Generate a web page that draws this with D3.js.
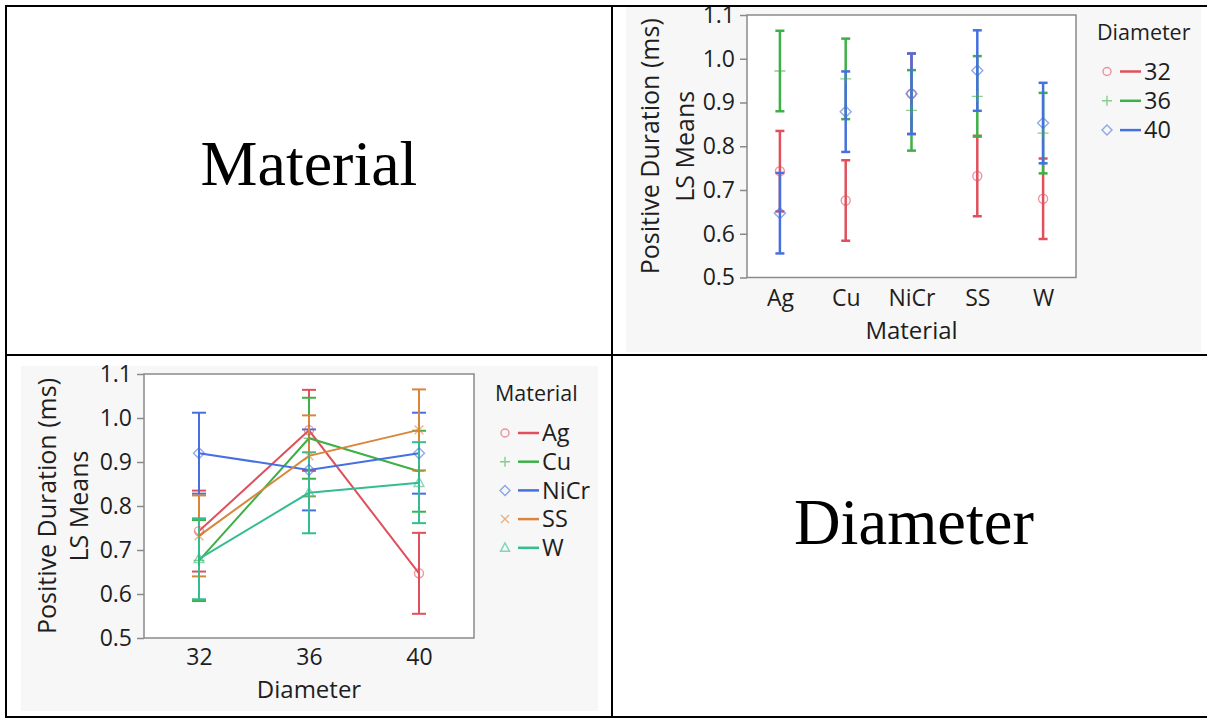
<!DOCTYPE html>
<html>
<head>
<meta charset="utf-8">
<script src="https://cdn.jsdelivr.net/npm/d3@7"></script>
<style>
  body { margin: 0; background: #fff; }
  text { font-family: "Open Sans", "Noto Sans", sans-serif; }
</style>
</head>
<body>
<div id="chart"></div>
<script>
var materials = ['Ag', 'Cu', 'NiCr', 'SS', 'W']
var diameters = ['32', '36', '40']

// LS means by diameter, in material order
var mean32 = [0.743, 0.676, 0.920, 0.732, 0.680]
var mean36 = [0.972, 0.954, 0.882, 0.914, 0.830]
var mean40 = [0.647, 0.879, 0.920, 0.973, 0.853]
var ciHalf = 0.092

var yTicks = [0.5, 0.6, 0.7, 0.8, 0.9, 1.0, 1.1]

var diaColors = ['#e0505c', '#3db046', '#4670e0']
var matColors = ['#e0505c', '#3db046', '#4670e0', '#d9853a', '#34bd91']
var diaShapes = ['circle', 'plus', 'diamond']
var matShapes = ['circle', 'plus', 'diamond', 'cross', 'triangle']

var means = [mean32, mean36, mean40]

var W = 1207, H = 719

var svg = d3.select('#chart').append('svg')
    .attr('width', W)
    .attr('height', H)

svg.append('rect').attr('width', W).attr('height', H).attr('fill', '#fff')

function shape(name, s) {
  if (name == 'circle') return 'M' + (-s) + ',0a' + s + ',' + s + ' 0 1,0 ' + (2 * s) + ',0a' + s + ',' + s + ' 0 1,0 ' + (-2 * s) + ',0'
  if (name == 'plus') return 'M' + (-s) + ',0H' + s + 'M0,' + (-s) + 'V' + s
  if (name == 'diamond') return 'M0,' + (-s) + 'L' + s + ',0L0,' + s + 'L' + (-s) + ',0Z'
  if (name == 'cross') return 'M' + (-s * 0.8) + ',' + (-s * 0.8) + 'L' + (s * 0.8) + ',' + (s * 0.8) + 'M' + (-s * 0.8) + ',' + (s * 0.8) + 'L' + (s * 0.8) + ',' + (-s * 0.8)
  return 'M0,' + (-s) + 'L' + (s * 0.9) + ',' + (s * 0.7) + 'L' + (-s * 0.9) + ',' + (s * 0.7) + 'Z'
}

// one interaction panel
function panel(opt) {
  var g = svg.append('g')

  g.append('rect')
    .attr('x', opt.bx).attr('y', opt.by)
    .attr('width', opt.bw).attr('height', opt.bh)
    .attr('fill', '#f7f7f7')

  var x = d3.scalePoint().domain(opt.cats).range([opt.left, opt.right]).padding(0.5)
  var y = d3.scaleLinear().domain([0.5, 1.1]).range([opt.bottom, opt.top])

  g.append('rect')
    .attr('x', opt.left).attr('y', opt.top)
    .attr('width', opt.right - opt.left).attr('height', opt.bottom - opt.top)
    .attr('fill', '#fff')

  var plot = g.append('g')

  opt.series.forEach(function(s, i) {
    var pts = s.values.map(function(v, j) { return {c: opt.cats[j], v: v} })
    var eb = plot.append('g').attr('stroke', s.color).attr('stroke-width', opt.barWidth).attr('fill', 'none')
    pts.forEach(function(p) {
      var cx = x(p.c)
      eb.append('line')
        .attr('x1', cx).attr('x2', cx)
        .attr('y1', y(p.v - ciHalf)).attr('y2', y(p.v + ciHalf))
      eb.append('line')
        .attr('x1', cx - opt.cap).attr('x2', cx + opt.cap)
        .attr('y1', y(p.v + ciHalf)).attr('y2', y(p.v + ciHalf))
      eb.append('line')
        .attr('x1', cx - opt.cap).attr('x2', cx + opt.cap)
        .attr('y1', y(p.v - ciHalf)).attr('y2', y(p.v - ciHalf))
    })
    if (opt.lines) {
      plot.append('path')
        .datum(pts)
        .attr('fill', 'none')
        .attr('stroke', s.color)
        .attr('stroke-width', 2)
        .attr('d', d3.line().x(function(d) { return x(d.c) }).y(function(d) { return y(d.v) }))
    }
  })

  opt.series.forEach(function(s) {
    plot.selectAll(null)
      .data(s.values)
      .enter().append('path')
        .attr('transform', function(v, j) { return 'translate(' + x(opt.cats[j]) + ',' + y(v) + ')' })
        .attr('d', shape(s.shape, s.shape == 'circle' ? 4.5 : 5.5))
        .attr('fill', 'none')
        .attr('stroke', s.color)
        .attr('stroke-opacity', 0.6)
        .attr('stroke-width', 1.4)
  })

  g.append('rect')
    .attr('x', opt.left).attr('y', opt.top)
    .attr('width', opt.right - opt.left).attr('height', opt.bottom - opt.top)
    .attr('fill', 'none')
    .attr('stroke', '#8a8a8a')
    .attr('stroke-width', 1.5)

  var ya = g.append('g')
    .attr('transform', 'translate(' + opt.left + ',0)')
    .call(d3.axisLeft(y).tickValues(yTicks).tickFormat(d3.format('.1f')).tickSize(7).tickPadding(5))
  ya.select('.domain').remove()
  ya.selectAll('.tick line').attr('stroke', '#8a8a8a').attr('stroke-width', 1.5)
  ya.selectAll('.tick text').attr('font-size', 23).attr('fill', '#1e1e1e')
    .style('font-family', '"Open Sans", sans-serif')

  var xa = g.append('g')
    .attr('transform', 'translate(0,' + opt.bottom + ')')
    .call(d3.axisBottom(x).tickSize(0).tickPadding(opt.xPad))
  xa.select('.domain').remove()
  xa.selectAll('.tick text').attr('font-size', 23).attr('fill', '#1e1e1e')
    .style('font-family', '"Open Sans", sans-serif')

  var midY = (opt.top + opt.bottom) / 2
  g.append('text')
    .attr('transform', 'translate(' + opt.t1x + ',' + midY + ') rotate(-90)')
    .attr('text-anchor', 'middle').attr('dy', '0.35em')
    .attr('font-size', 25).attr('fill', '#1e1e1e')
    .text('Positive Duration (ms)')
  g.append('text')
    .attr('transform', 'translate(' + opt.t2x + ',' + midY + ') rotate(-90)')
    .attr('text-anchor', 'middle').attr('dy', '0.35em')
    .attr('font-size', 25).attr('fill', '#1e1e1e')
    .text('LS Means')

  g.append('text')
    .attr('x', (opt.left + opt.right) / 2).attr('y', opt.xtY)
    .attr('text-anchor', 'middle').attr('dy', '0.35em')
    .attr('font-size', 24).attr('fill', '#1e1e1e')
    .text(opt.xTitle)

  // legend
  var lg = g.append('g')
  lg.append('text')
    .attr('x', opt.lx).attr('y', opt.ly)
    .attr('dy', '0.35em')
    .attr('font-size', 21.5).attr('fill', '#1e1e1e')
    .text(opt.legendTitle)
  var item = lg.selectAll('.item')
    .data(opt.series)
    .enter().append('g')
      .attr('transform', function(d, i) { return 'translate(' + opt.lx + ',' + (opt.ly0 + i * opt.lstep) + ')' })
  item.append('path')
    .attr('transform', 'translate(10,0)')
    .attr('d', function(d) { return shape(d.shape, d.shape == 'circle' ? 4 : 5) })
    .attr('fill', 'none')
    .attr('stroke', function(d) { return d.color })
    .attr('stroke-opacity', 0.6)
    .attr('stroke-width', 1.4)
  item.append('line')
    .attr('x1', 23).attr('x2', 44)
    .attr('stroke', function(d) { return d.color })
    .attr('stroke-width', 2.5)
  item.append('text')
    .attr('x', 47).attr('dy', '0.35em')
    .attr('font-size', 23.5).attr('fill', '#1e1e1e')
    .text(function(d) { return d.name })
}

// top-right: x = Material, one series per Diameter
panel({
  bx: 626, by: 7, bw: 575, bh: 345,
  left: 747, right: 1076, top: 15, bottom: 277.5,
  cats: materials,
  series: diameters.map(function(d, i) {
    return {name: d, values: means[i], color: diaColors[i], shape: diaShapes[i]}
  }),
  lines: false, barWidth: 2.5, cap: 4.5, xPad: 12,
  t1x: 650, t2x: 685, xtY: 331, xTitle: 'Material',
  lx: 1097, ly: 32, ly0: 71.5, lstep: 29.3, legendTitle: 'Diameter'
})

// bottom-left: x = Diameter, one series per Material
panel({
  bx: 21, by: 366, bw: 577, bh: 345,
  left: 144, right: 474, top: 374, bottom: 638,
  cats: diameters,
  series: materials.map(function(m, j) {
    return {name: m, values: means.map(function(arr) { return arr[j] }), color: matColors[j], shape: matShapes[j]}
  }),
  lines: true, barWidth: 2, cap: 7, xPad: 10.5,
  t1x: 47, t2x: 79, xtY: 690, xTitle: 'Diameter',
  lx: 495, ly: 393, ly0: 433, lstep: 28.7, legendTitle: 'Material'
})

// table cells
svg.append('text')
  .attr('x', 309).attr('y', 185)
  .attr('text-anchor', 'middle')
  .attr('font-size', 64)
  .style('font-family', '"Liberation Serif", "Times New Roman", serif')
  .text('Material')

svg.append('text')
  .attr('x', 914).attr('y', 544)
  .attr('text-anchor', 'middle')
  .attr('font-size', 64.5)
  .style('font-family', '"Liberation Serif", "Times New Roman", serif')
  .text('Diameter')

var grid = svg.append('g').attr('stroke', '#000').attr('stroke-width', 2)
grid.append('line').attr('x1', 5).attr('x2', W).attr('y1', 6).attr('y2', 6)
grid.append('line').attr('x1', 5).attr('x2', W).attr('y1', 355).attr('y2', 355)
grid.append('line').attr('x1', 5).attr('x2', W).attr('y1', 717).attr('y2', 717)
grid.append('line').attr('x1', 6).attr('x2', 6).attr('y1', 5).attr('y2', 718)
grid.append('line').attr('x1', 612).attr('x2', 612).attr('y1', 5).attr('y2', 718)
</script>
</body>
</html>
